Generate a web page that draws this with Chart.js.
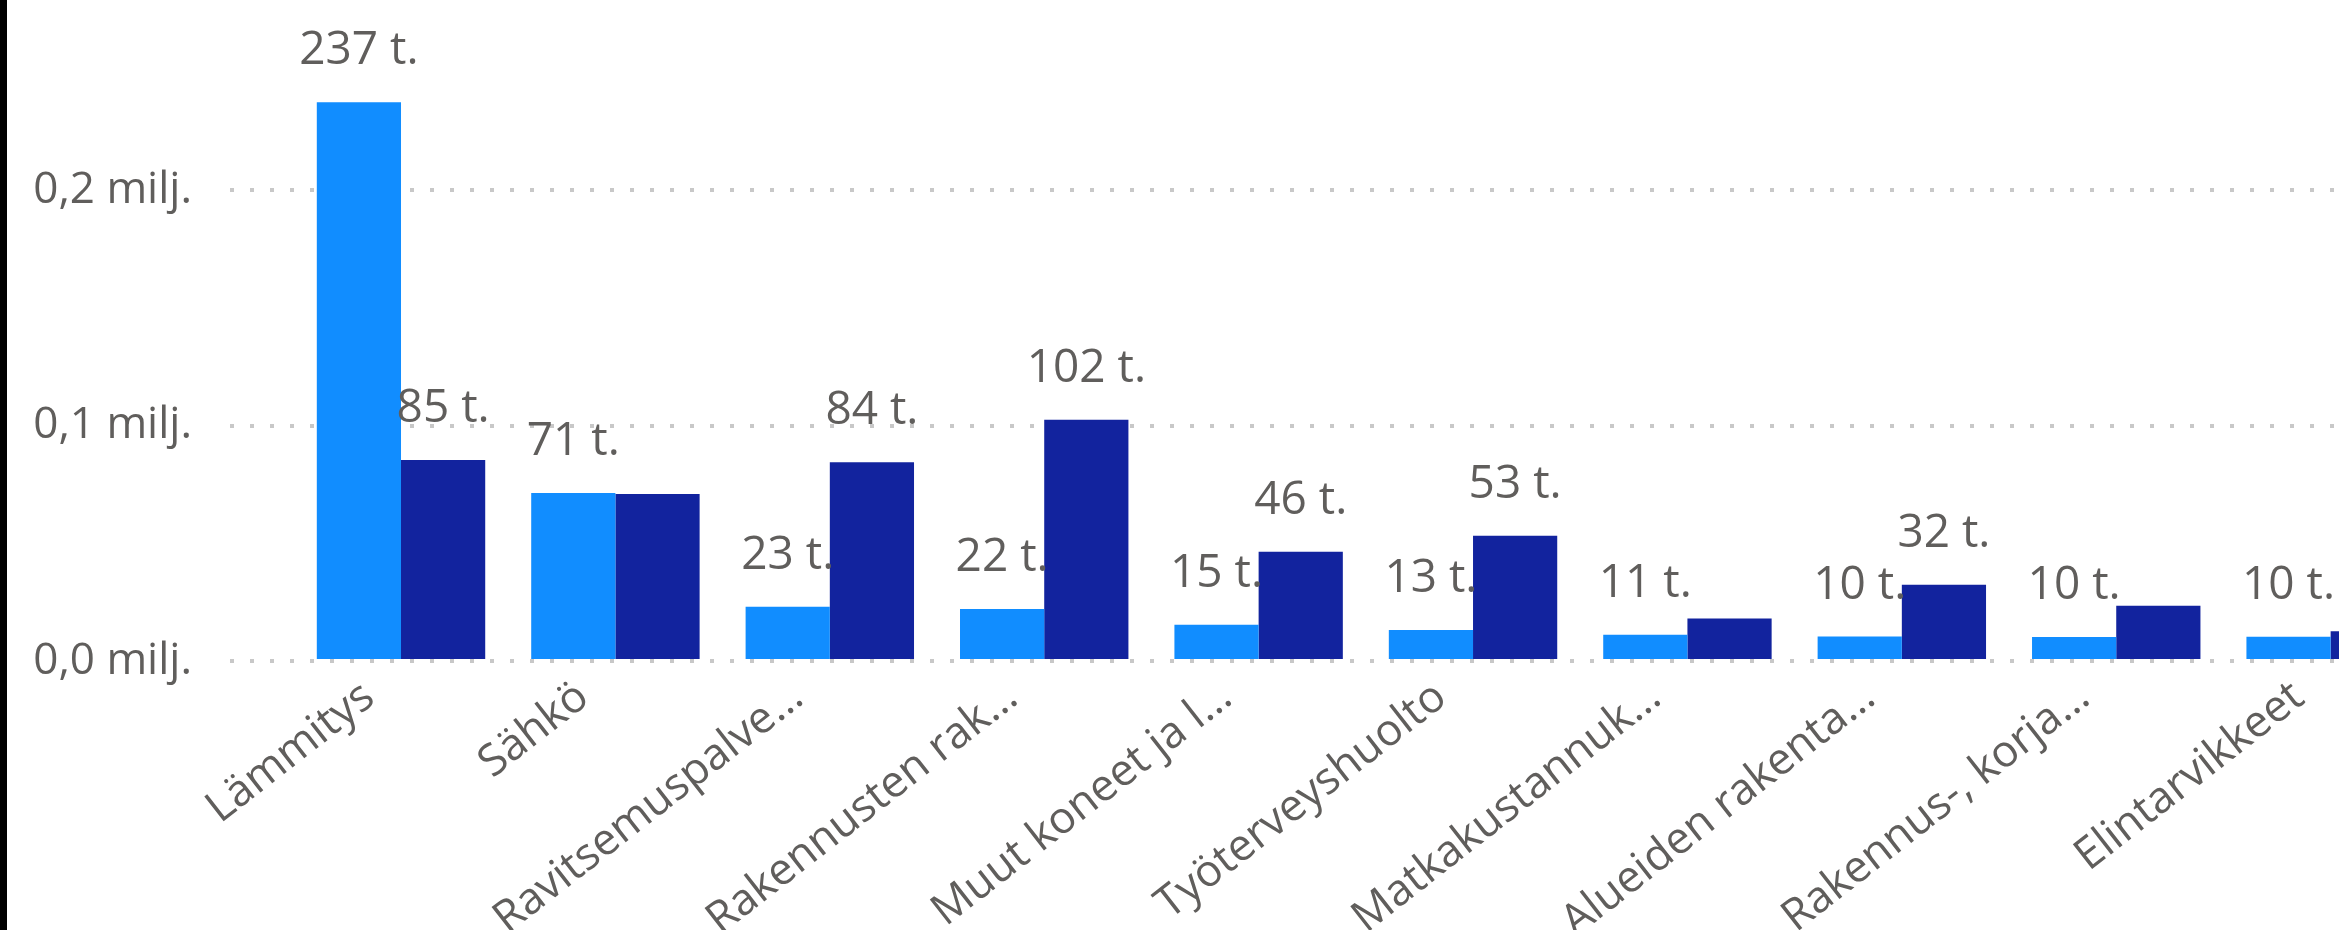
<!DOCTYPE html>
<html>
<head>
<meta charset="utf-8">
<script src="https://cdn.jsdelivr.net/npm/chart.js@4.4.1/dist/chart.umd.min.js"></script>
<style>
  html, body { margin: 0; padding: 0; background: #fff; overflow: hidden; }
  #wrap { position: absolute; left: 0; top: 0; width: 2332px; height: 930px; border-left: 7px solid #000; }
  canvas { display: block; }
</style>
</head>
<body>
<div id="wrap"><canvas id="canvas" width="2332" height="930"></canvas></div>
<script>
const categories = ['Lämmitys', 'Sähkö', 'Ravitsemuspalve…', 'Rakennusten rak…', 'Muut koneet ja l…',
  'Työterveyshuolto', 'Matkakustannuk…', 'Alueiden rakenta…', 'Rakennus-, korja…', 'Elintarvikkeet']
// euros
const series1 = [237300, 71300, 23000, 22100, 15400, 13200, 11200, 10400, 10200, 10300]
const series2 = [85400, 70900, 84400, 102400, 46400, 53200, 18100, 32400, 23500, 12600]
const yTicks = [0, 100000, 200000]

const textColor = '#605E5C'
const fontFamily = '"Segoe UI", "Open Sans", sans-serif'

const toPoints = arr => arr.map((v, i) => ({ x: i, y: v }))
const fmtT = v => Math.round(v / 1000) + ' t.'

// data labels above bars, hidden when they collide (like Power BI)
const dataLabels = {
  id: 'dataLabels',
  afterDatasetsDraw(chart) {
    const ctx = chart.ctx
    const area = chart.chartArea
    const fs = 46
    ctx.save()
    ctx.font = fs + 'px ' + fontFamily
    ctx.fillStyle = textColor
    ctx.textAlign = 'center'
    ctx.textBaseline = 'alphabetic'
    const placed = []
    for (let i = 0; i < categories.length; i++) {
      chart.data.datasets.forEach((ds, d) => {
        const el = chart.getDatasetMeta(d).data[i]
        const txt = fmtT(ds.data[i].y)
        const w = ctx.measureText(txt).width
        const base = el.y - 38
        const box = { l: el.x - w / 2 - 4, r: el.x + w / 2 + 4, t: base - fs * 0.75, b: base }
        if (el.x + w / 2 > area.right) return
        const hit = placed.some(p => box.l < p.r && box.r > p.l && box.t < p.b && box.b > p.t)
        if (hit) return
        placed.push(box)
        ctx.fillText(txt, el.x, base)
      })
    }
    ctx.restore()
  }
}

const ctx = document.getElementById('canvas')

new Chart(ctx, {
  type: 'bar',
  data: {
    datasets: [
      { label: 'A', data: toPoints(series1), backgroundColor: '#118DFF', categoryPercentage: 0.7855, barPercentage: 1 },
      { label: 'B', data: toPoints(series2), backgroundColor: '#12239E', categoryPercentage: 0.7855, barPercentage: 1 }
    ]
  },
  options: {
    responsive: false,
    animation: false,
    devicePixelRatio: 1,
    layout: { padding: 0 },
    plugins: { legend: { display: false }, tooltip: { enabled: false } },
    scales: {
      x: {
        type: 'linear',
        offset: false,
        min: -0.7976,
        max: 9.039,
        grid: { display: false, drawTicks: false },
        border: { display: false },
        afterBuildTicks: s => { s.ticks = categories.map((c, i) => ({ value: i })) },
        afterFit: s => { s.height = 269; s.paddingLeft = 0; s.paddingRight = 0 },
        ticks: {
          autoSkip: false,
          minRotation: 38,
          maxRotation: 38,
          padding: 10,
          labelOffset: -32,
          color: textColor,
          font: { family: fontFamily, size: 44 },
          callback: v => categories[v]
        }
      },
      y: {
        min: 0,
        max: 280700,
        afterBuildTicks: s => { s.ticks = yTicks.map(v => ({ value: v })) },
        afterFit: s => { s.width = 223; s.paddingTop = 0; s.paddingBottom = 0 },
        grid: { color: '#C8C8C8', lineWidth: 4, drawTicks: false },
        border: { display: false, dash: [4, 16] },
        ticks: {
          padding: 38,
          color: textColor,
          font: { family: fontFamily, size: 44 },
          callback: v => (v / 1e6).toFixed(1).replace('.', ',') + ' milj.'
        }
      }
    }
  },
  plugins: [dataLabels]
})
</script>
</body>
</html>
